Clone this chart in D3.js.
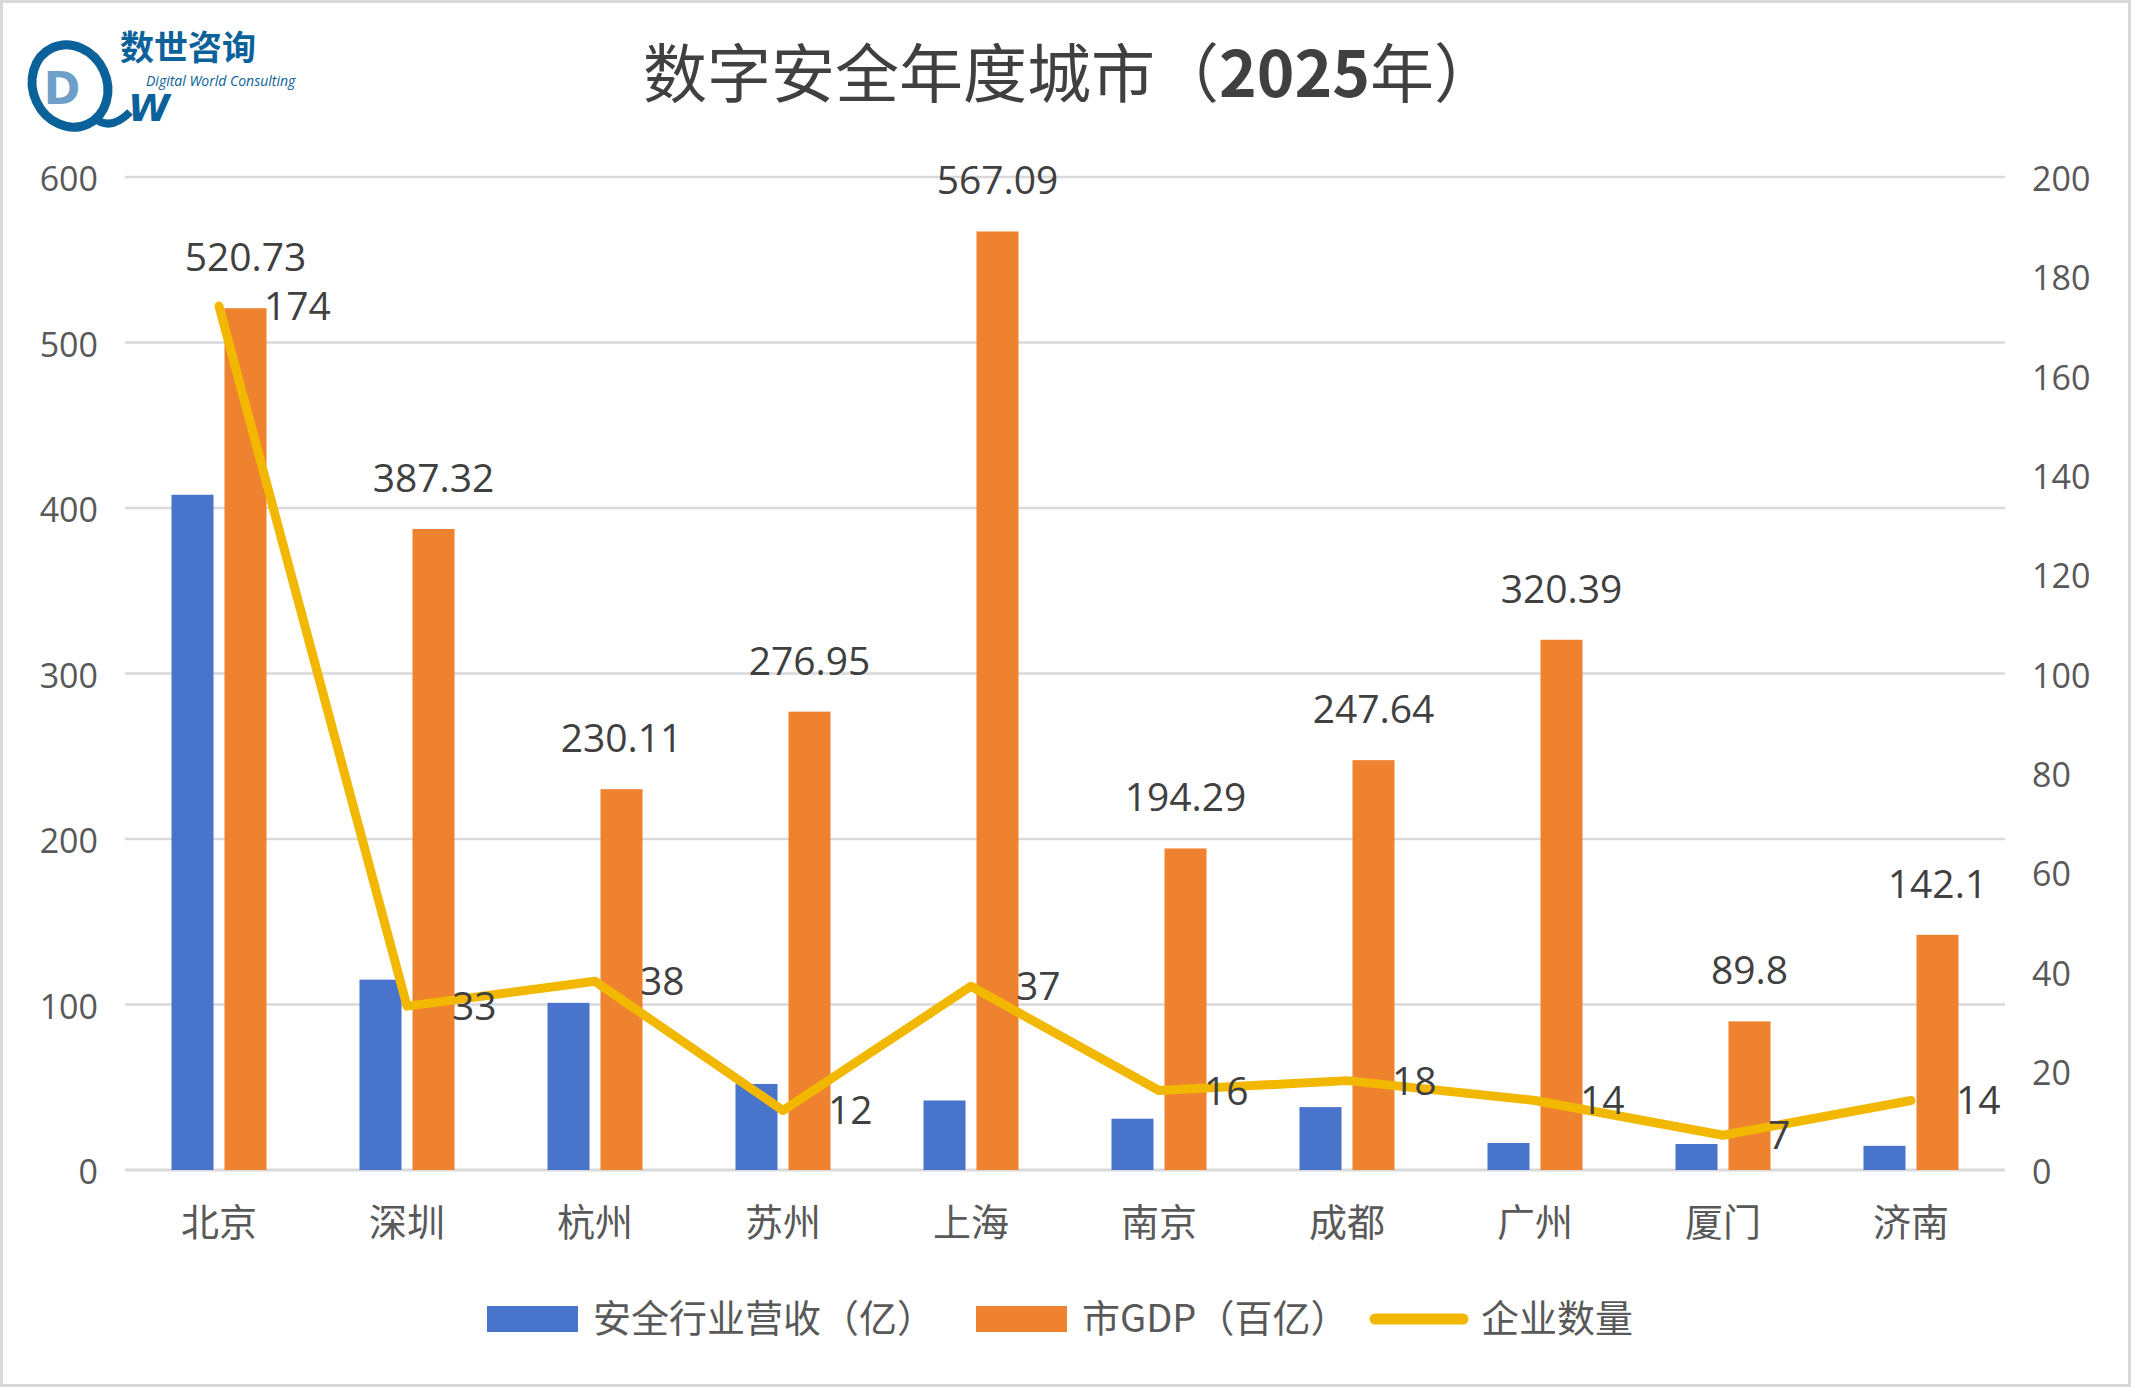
<!DOCTYPE html>
<html>
<head>
<meta charset="utf-8">
<script src="https://cdn.jsdelivr.net/npm/d3@7"></script>
<style>
  html, body { margin: 0; padding: 0; background: #fff; }
  svg { display: block; }
</style>
</head>
<body>
<div id="chart"></div>
<script>
// city data
const cities = ["北京", "深圳", "杭州", "苏州", "上海", "南京", "成都", "广州", "厦门", "济南"];
const revenue = [408, 115, 101, 52, 42, 31, 38, 16.3, 15.7, 14.6];          // 安全行业营收（亿）
const gdp = [520.73, 387.32, 230.11, 276.95, 567.09, 194.29, 247.64, 320.39, 89.8, 142.1]; // 市GDP（百亿）
const companies = [174, 33, 38, 12, 37, 16, 18, 14, 7, 14];                 // 企业数量
const leftTicks = [0, 100, 200, 300, 400, 500, 600];
const rightTicks = [0, 20, 40, 60, 80, 100, 120, 140, 160, 180, 200];
const seriesNames = ["安全行业营收（亿）", "市GDP（百亿）", "企业数量"];

const width = 2131, height = 1387;
const blue = "#4874cb", orange = "#ee822f", gold = "#f2b800";
const grey = "#595959";
const numFont = "'Open Sans', 'DejaVu Sans', sans-serif";
const cjkFont = "'Noto Sans CJK SC', sans-serif";

const svg = d3.select("#chart").append("svg")
  .attr("width", width)
  .attr("height", height);

// outer frame
svg.append("rect")
  .attr("x", 1.5).attr("y", 1.5)
  .attr("width", width - 3).attr("height", height - 3)
  .attr("fill", "#fff")
  .attr("stroke", "#d9d9d9")
  .attr("stroke-width", 3);

const x0 = d3.scaleBand().domain(cities).range([125, 2005]);
const x1 = d3.scaleBand().domain(["rev", "gdp"]).range([0, x0.bandwidth()])
  .paddingInner(0.2075).paddingOuter(0.877);
const yL = d3.scaleLinear().domain([0, 600]).range([1170, 177]);
const yR = d3.scaleLinear().domain([0, 200]).range([1170, 177]);

// grid lines
svg.append("g")
  .selectAll("line")
  .data(leftTicks)
  .join("line")
  .attr("x1", 125).attr("x2", 2005)
  .attr("y1", d => yL(d)).attr("y2", d => yL(d))
  .attr("stroke", "#d9d9d9")
  .attr("stroke-width", d => d === 0 ? 3 : 2.5);

// left axis
const leftAxis = svg.append("g")
  .attr("transform", "translate(125,0)")
  .call(d3.axisLeft(yL).tickValues(leftTicks).tickSize(0).tickPadding(27));
leftAxis.select(".domain").remove();
leftAxis.selectAll("text")
  .attr("font-family", numFont).attr("font-size", 34).attr("fill", grey)
  .attr("dy", "0.4em");

// right axis
const rightAxis = svg.append("g")
  .attr("transform", "translate(2005,0)")
  .call(d3.axisRight(yR).tickValues(rightTicks).tickSize(0).tickPadding(27));
rightAxis.select(".domain").remove();
rightAxis.selectAll("text")
  .attr("font-family", numFont).attr("font-size", 34).attr("fill", grey)
  .attr("dy", "0.4em");

// category axis
const bottomAxis = svg.append("g")
  .attr("transform", "translate(0,1170)")
  .call(d3.axisBottom(x0).tickSize(0).tickPadding(39));
bottomAxis.select(".domain").remove();
bottomAxis.selectAll("text")
  .attr("font-family", cjkFont).attr("font-size", 38).attr("fill", grey);

// bars
const groups = svg.append("g")
  .selectAll("g")
  .data(cities)
  .join("g")
  .attr("transform", d => `translate(${x0(d)},0)`);

groups.append("rect")
  .attr("x", x1("rev"))
  .attr("width", x1.bandwidth())
  .attr("y", (d, i) => yL(revenue[i]))
  .attr("height", (d, i) => yL(0) - yL(revenue[i]))
  .attr("fill", blue);

groups.append("rect")
  .attr("x", x1("gdp"))
  .attr("width", x1.bandwidth())
  .attr("y", (d, i) => yL(gdp[i]))
  .attr("height", (d, i) => yL(0) - yL(gdp[i]))
  .attr("fill", orange);

// gdp labels above orange bars
groups.append("text")
  .attr("x", x1("gdp") + x1.bandwidth() / 2)
  .attr("y", (d, i) => yL(gdp[i]) - 37)
  .attr("text-anchor", "middle")
  .attr("font-family", numFont).attr("font-size", 39).attr("fill", "#404040")
  .text((d, i) => gdp[i]);

// company count line
const cx = d => x0(d) + x0.bandwidth() / 2;
const line = d3.line()
  .x((d, i) => cx(cities[i]))
  .y(d => yR(d));

svg.append("path")
  .datum(companies)
  .attr("d", line)
  .attr("fill", "none")
  .attr("stroke", gold)
  .attr("stroke-width", 9)
  .attr("stroke-linejoin", "round")
  .attr("stroke-linecap", "round");

svg.append("g")
  .selectAll("text")
  .data(companies)
  .join("text")
  .attr("x", (d, i) => cx(cities[i]) + 45)
  .attr("y", d => yR(d) + 14)
  .attr("font-family", numFont).attr("font-size", 39).attr("fill", "#404040")
  .text(d => d);

// title
const title = svg.append("text")
  .attr("x", 643).attr("y", 97)
  .attr("font-family", cjkFont).attr("font-size", 64).attr("fill", "#404040");
title.append("tspan").text("数字安全年度城市（");
title.append("tspan").attr("font-weight", "bold").text("2025");
title.append("tspan").text("年）");

// legend
const legend = svg.append("g").attr("font-family", cjkFont).attr("font-size", 38).attr("fill", grey);
const legendItems = [
  { name: seriesNames[0], x: 487, type: "rect", color: blue },
  { name: seriesNames[1], x: 976, type: "rect", color: orange },
  { name: seriesNames[2], x: 1370, type: "line", color: gold }
];
legendItems.forEach(item => {
  if (item.type === "rect") {
    legend.append("rect")
      .attr("x", item.x).attr("y", 1306)
      .attr("width", 91).attr("height", 26)
      .attr("fill", item.color);
  } else {
    legend.append("line")
      .attr("x1", item.x + 5).attr("x2", item.x + 93)
      .attr("y1", 1319).attr("y2", 1319)
      .attr("stroke", item.color).attr("stroke-width", 11)
      .attr("stroke-linecap", "round");
  }
  legend.append("text")
    .attr("x", item.x + (item.type === "rect" ? 106 : 111))
    .attr("y", 1332)
    .text(item.name);
});

// logo
const logoBlue = "#0b6199";
const logo = svg.append("g");
logo.append("ellipse")
  .attr("cx", 70).attr("cy", 86)
  .attr("rx", 37).attr("ry", 42)
  .attr("transform", "rotate(-25,70,86)")
  .attr("fill", "none")
  .attr("stroke", logoBlue)
  .attr("stroke-width", 9);
logo.append("path")
  .attr("d", "M 97 120 Q 112 130 130 112")
  .attr("fill", "none")
  .attr("stroke", logoBlue)
  .attr("stroke-width", 8);
logo.append("text")
  .attr("x", 62).attr("y", 104)
  .attr("font-family", "'DejaVu Sans', sans-serif").attr("font-weight", "bold")
  .attr("font-size", 44).attr("fill", "#6d9fc8")
  .attr("text-anchor", "middle")
  .text("D");
logo.append("text")
  .attr("x", 128).attr("y", 121)
  .attr("font-family", "'DejaVu Sans', sans-serif").attr("font-weight", "bold")
  .attr("font-style", "italic")
  .attr("font-size", 38).attr("fill", logoBlue)
  .text("W");
logo.append("text")
  .attr("x", 120).attr("y", 60)
  .attr("font-family", cjkFont).attr("font-weight", "bold")
  .attr("font-size", 34).attr("fill", logoBlue)
  .text("数世咨询");
logo.append("text")
  .attr("x", 146).attr("y", 86)
  .attr("font-family", "'Open Sans', sans-serif").attr("font-style", "italic")
  .attr("font-size", 14).attr("fill", logoBlue)
  .text("Digital World Consulting");
</script>
</body>
</html>
